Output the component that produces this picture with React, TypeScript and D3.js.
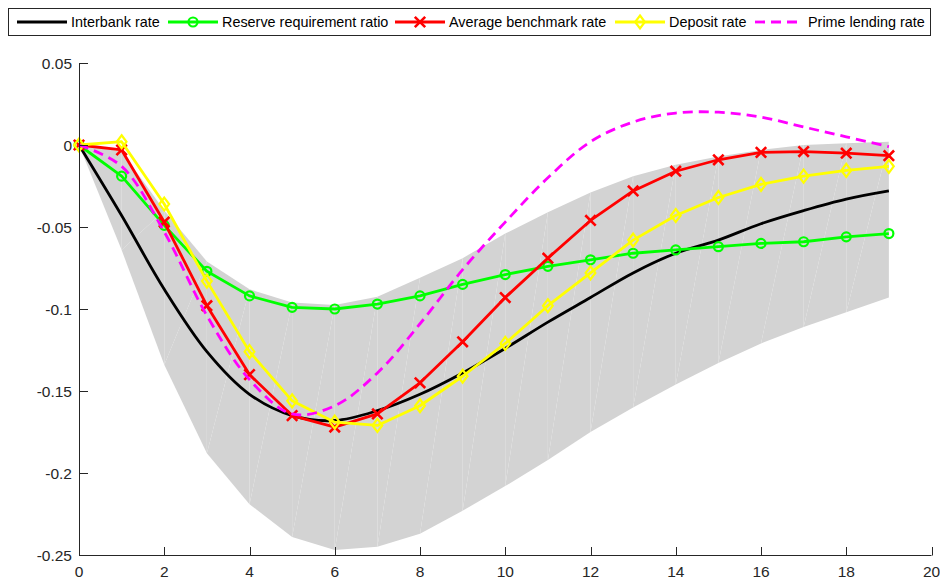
import React from "react";
import * as d3 from "d3";

const periods = d3.range(0, 20);
const interbank = [0, -0.043, -0.088, -0.126, -0.152, -0.165, -0.168, -0.162, -0.152, -0.139, -0.124, -0.108, -0.093, -0.078, -0.066, -0.058, -0.048, -0.040, -0.033, -0.028];
const reserve = [0, -0.019, -0.049, -0.077, -0.092, -0.099, -0.100, -0.097, -0.092, -0.085, -0.079, -0.074, -0.070, -0.066, -0.064, -0.062, -0.060, -0.059, -0.056, -0.054];
const benchmark = [0, -0.003, -0.047, -0.098, -0.140, -0.165, -0.172, -0.164, -0.145, -0.120, -0.093, -0.069, -0.046, -0.028, -0.016, -0.009, -0.0045, -0.004, -0.005, -0.0065];
const deposit = [0, 0.002, -0.036, -0.083, -0.126, -0.156, -0.169, -0.171, -0.159, -0.141, -0.121, -0.098, -0.078, -0.058, -0.043, -0.032, -0.024, -0.019, -0.0155, -0.013];
const primeLending = [0, -0.013, -0.053, -0.104, -0.143, -0.164, -0.159, -0.139, -0.109, -0.076, -0.047, -0.020, 0.002, 0.014, 0.0195, 0.020, 0.017, 0.011, 0.005, -0.001];
const bandUpper = [0, -0.004, -0.040, -0.071, -0.088, -0.096, -0.0976, -0.0925, -0.081, -0.069, -0.054, -0.041, -0.029, -0.019, -0.012, -0.007, -0.003, 0, 0.001, 0.002];
const bandLower = [0, -0.064, -0.134, -0.188, -0.219, -0.239, -0.247, -0.245, -0.237, -0.223, -0.208, -0.192, -0.175, -0.160, -0.146, -0.133, -0.121, -0.111, -0.102, -0.093];
const xTicks = [0, 2, 4, 6, 8, 10, 12, 14, 16, 18, 20];
const yTicks = [0.05, 0, -0.05, -0.1, -0.15, -0.2, -0.25];
const yTickLabels = ["0.05", "0", "-0.05", "-0.1", "-0.15", "-0.2", "-0.25"];
const legendLabels = ["Interbank rate", "Reserve requirement ratio", "Average benchmark rate", "Deposit rate", "Prime lending rate"];

const FONT = "'Liberation Sans', Arial, Helvetica, sans-serif";

function Marker({ kind, x, y, color }: { kind: string; x: number; y: number; color: string }) {
  if (kind === "circle") {
    return <circle cx={x} cy={y} r={4.5} fill="none" stroke={color} strokeWidth={2.2} />;
  }
  if (kind === "x") {
    const s = 5.2;
    return (
      <path d={`M${x - s},${y - s}L${x + s},${y + s}M${x - s},${y + s}L${x + s},${y - s}`} stroke={color} strokeWidth={2.6} fill="none" />
    );
  }
  if (kind === "diamond") {
    const s = 6.5;
    return <path d={`M${x},${y - s}L${x + s * 0.75},${y}L${x},${y + s}L${x - s * 0.75},${y}Z`} fill="none" stroke={color} strokeWidth={2.2} />;
  }
  return null;
}

export default function App() {
  const W = 940;
  const H = 580;
  const x = d3.scaleLinear().domain([0, 20]).range([79, 931.5]);
  const y = d3.scaleLinear().domain([0.05, -0.25]).range([63, 555]);

  const series = [
    { name: legendLabels[0], data: interbank, color: "#000000", marker: "none", dash: undefined as string | undefined, curve: d3.curveCatmullRom },
    { name: legendLabels[1], data: reserve, color: "#00ff00", marker: "circle", dash: undefined, curve: d3.curveLinear },
    { name: legendLabels[2], data: benchmark, color: "#ff0000", marker: "x", dash: undefined, curve: d3.curveLinear },
    { name: legendLabels[3], data: deposit, color: "#ffff00", marker: "diamond", dash: undefined, curve: d3.curveLinear },
    { name: legendLabels[4], data: primeLending, color: "#ff00ff", marker: "none", dash: "10,6", curve: d3.curveCatmullRom },
  ];

  const tris: string[] = [];
  for (let i = 0; i < periods.length - 1; i++) {
    const x0 = x(periods[i]);
    const x1 = x(periods[i + 1]);
    const u0 = y(bandUpper[i]);
    const u1 = y(bandUpper[i + 1]);
    const l0 = y(bandLower[i]);
    const l1 = y(bandLower[i + 1]);
    tris.push(`M${x0},${u0}L${x1},${u1}L${x0},${l0}Z`);
    tris.push(`M${x1},${u1}L${x1},${l1}L${x0},${l0}Z`);
  }

  const legendItems = [
    { x1: 17, x2: 67, tx: 71, mx: 42 },
    { x1: 168, x2: 218, tx: 222, mx: 193 },
    { x1: 395, x2: 445, tx: 449, mx: 420 },
    { x1: 615, x2: 665, tx: 669, mx: 640 },
    { x1: 755, x2: 803, tx: 808, mx: 779 },
  ];

  return (
    <svg width={W} height={H} style={{ position: "absolute", left: 0, top: 0, background: "#fff" }} fontFamily={FONT}>
      <rect x={0} y={0} width={W} height={H} fill="#fff" />
      <g>
        {tris.map((d, i) => (
          <path key={i} d={d} fill="#d3d3d3" stroke="none" />
        ))}
      </g>
      {series.map((s, si) => {
        const line = d3
          .line<number>()
          .x((_, i) => x(periods[i]))
          .y((v) => y(v))
          .curve(s.curve);
        return (
          <g key={si}>
            <path d={line(s.data) || ""} fill="none" stroke={s.color} strokeWidth={2.8} strokeDasharray={s.dash} strokeLinejoin="round" />
            {s.marker !== "none" &&
              s.data.map((v, i) => <Marker key={i} kind={s.marker} x={x(periods[i])} y={y(v)} color={s.color} />)}
          </g>
        );
      })}
      <g stroke="#262626" strokeWidth={1} fill="none">
        <line x1={x(0)} x2={x(20)} y1={555.5} y2={555.5} />
        <line x1={79.5} x2={79.5} y1={y(0.05)} y2={555.5} />
        {xTicks.map((t) => (
          <line key={t} x1={Math.round(x(t)) + 0.5} x2={Math.round(x(t)) + 0.5} y1={555.5} y2={547} />
        ))}
        {yTicks.map((t) => (
          <line key={t} x1={79.5} x2={88} y1={Math.round(y(t)) + 0.5} y2={Math.round(y(t)) + 0.5} />
        ))}
      </g>
      <g fill="#262626" fontSize={15.5}>
        {xTicks.map((t) => (
          <text key={t} x={x(t)} y={577} textAnchor="middle">
            {String(t)}
          </text>
        ))}
        {yTicks.map((t, i) => (
          <text key={t} x={72} y={y(t) + 5.5} textAnchor="end">
            {yTickLabels[i]}
          </text>
        ))}
      </g>
      <rect x={8.5} y={8.5} width={922} height={27} fill="#fff" stroke="#262626" strokeWidth={1} />
      {series.map((s, i) => {
        const li = legendItems[i];
        return (
          <g key={i}>
            <line x1={li.x1} x2={li.x2} y1={22} y2={22} stroke={s.color} strokeWidth={2.8} strokeDasharray={s.dash} />
            {s.marker !== "none" && <Marker kind={s.marker} x={li.mx} y={22} color={s.color} />}
            <text x={li.tx} y={27} fontSize={14.4} fill="#000">
              {s.name}
            </text>
          </g>
        );
      })}
    </svg>
  );
}
